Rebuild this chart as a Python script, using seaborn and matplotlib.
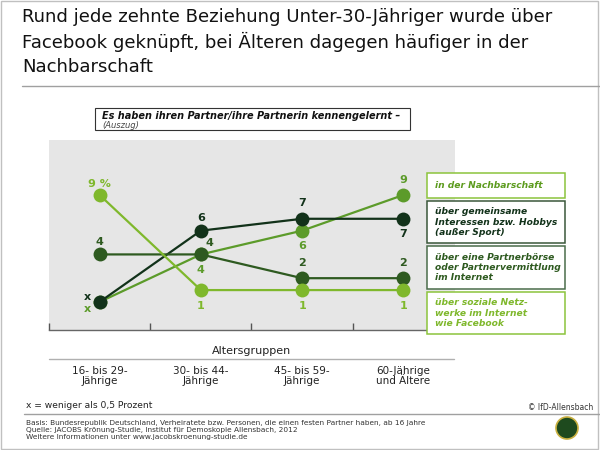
import matplotlib.pyplot as plt
import matplotlib.patches as mpatches
from matplotlib.lines import Line2D
import seaborn as sns
import pandas as pd

# Daten (Werte in Prozent, 0 = weniger als 0,5 Prozent -> "x")
age_groups = ["16- bis 29-\nJährige", "30- bis 44-\nJährige",
              "45- bis 59-\nJährige", "60-Jährige\nund Ältere"]
series_keys = ["nachbarschaft", "interessen", "partnerboerse", "facebook"]
series_labels = ["in der Nachbarschaft",
                 "über gemeinsame\nInteressen bzw. Hobbys\n(außer Sport)",
                 "über eine Partnerbörse\noder Partnervermittlung\nim Internet",
                 "über soziale Netz-\nwerke im Internet\nwie Facebook"]
nachbarschaft = [0, 4, 6, 9]
interessen = [0, 6, 7, 7]
partnerboerse = [4, 4, 2, 2]
facebook = [9, 1, 1, 1]

title = ("Rund jede zehnte Beziehung Unter-30-Jähriger wurde über\n"
         "Facebook geknüpft, bei Älteren dagegen häufiger in der\n"
         "Nachbarschaft")
subtitle = "Es haben ihren Partner/ihre Partnerin kennengelernt –"
footnotes = ("Basis: Bundesrepublik Deutschland, Verheiratete bzw. Personen, die einen festen Partner haben, ab 16 Jahre\n"
             "Quelle: JACOBS Krönung-Studie, Institut für Demoskopie Allensbach, 2012\n"
             "Weitere Informationen unter www.jacobskroenung-studie.de")

# Farben
colors = {"nachbarschaft": "#5c9b2a", "interessen": "#12321a",
          "partnerboerse": "#2e5a20", "facebook": "#7fb82c"}
box_edges = ["#8cc43c", "#3a573a", "#4a6c4a", "#8cc43c"]
box_text = ["#5c9b1e", "#12321a", "#2e5a20", "#7fb82c"]

# Beschriftungs-Versatz je Punkt (Pixel)
label_offsets = {
    "nachbarschaft": [(-12, -7), (0, -16), (0, -15), (0, 15)],
    "interessen": [(-12, 5), (0, 13), (0, 16), (0, -15)],
    "partnerboerse": [(0, 12), (9, 11), (0, 15), (0, 15)],
    "facebook": [(0, 11), (0, -16), (0, -16), (0, -16)],
}

sns.set_theme(style="white")
plt.rcParams["font.family"] = ["DejaVu Sans"]

W, H = 600, 450


def fx(px):
    return px / W


def fy(py):
    return 1 - py / H


fig = plt.figure(figsize=(6, 4.5), dpi=100)
fig.patch.set_facecolor("white")

values = {"nachbarschaft": nachbarschaft, "interessen": interessen,
          "partnerboerse": partnerboerse, "facebook": facebook}
rows = []
for key in series_keys:
    for i, v in enumerate(values[key]):
        rows.append({"pos": i, "wert": v, "weg": key})
df = pd.DataFrame(rows)

ax = fig.add_axes([fx(49), fy(330), 406 / W, 190 / H])
ax.set_facecolor("#e6e6e6")
sns.lineplot(data=df, x="pos", y="wert", hue="weg", hue_order=series_keys,
             palette=colors, marker="o", markersize=10, markeredgewidth=0,
             linewidth=1.6, errorbar=None, legend=False, ax=ax)

ax.set_xlim(-0.494, 3.51)
ax.set_ylim(-2.36, 13.63)
ax.set_xticks([-0.5, 0.5, 1.5, 2.5])
ax.set_xticklabels([])
ax.set_yticks([])
ax.set_xlabel("")
ax.set_ylabel("")
ax.tick_params(axis="x", direction="in", length=5, width=1, color="#555555", bottom=True)
for side in ["top", "left", "right"]:
    ax.spines[side].set_visible(False)
ax.spines["bottom"].set_color("#666666")
ax.spines["bottom"].set_linewidth(1)

# Wertbeschriftungen
for key in series_keys:
    for i, v in enumerate(values[key]):
        txt = "x" if v == 0 else str(v)
        if key == "facebook" and i == 0:
            txt = f"{v} %"
        dx, dy = label_offsets[key][i]
        ax.annotate(txt, (i, v), xytext=(dx, dy), textcoords="offset pixels",
                    ha="center", va="center", fontsize=8, fontweight="bold",
                    color=colors[key], annotation_clip=False)

# Kategorien unter der Achse
for i, lab in enumerate(age_groups):
    ax.text(i, -(376 - 330) / 190, lab, transform=ax.get_xaxis_transform(),
            ha="center", va="center", fontsize=7.5, color="#222222", linespacing=1.05)
ax.text(1.5, -(351 - 330) / 190, "Altersgruppen", transform=ax.get_xaxis_transform(),
        ha="center", va="center", fontsize=8, color="#222222")
fig.add_artist(Line2D([fx(49), fx(454)], [fy(359), fy(359)], color="#b0b0b0", lw=1))

# Legendenkästen
box_ys = [(173, 198), (201, 243), (246, 289), (292, 334)]
for (top, bot), lab, ec, tc in zip(box_ys, series_labels, box_edges, box_text):
    fig.add_artist(mpatches.Rectangle((fx(427), fy(bot)), 138 / W, (bot - top) / H,
                                      facecolor="white", edgecolor=ec, lw=1.1))
    fig.text(fx(435), fy((top + bot) / 2), lab, ha="left", va="center",
             fontsize=6.6, fontweight="bold", fontstyle="italic", color=tc,
             linespacing=1.2)

# Untertitel-Kasten
fig.add_artist(mpatches.Rectangle((fx(95), fy(130)), 315 / W, 22 / H,
                                  facecolor="white", edgecolor="#333333", lw=0.8))
fig.text(fx(102), fy(116), subtitle, ha="left", va="center", fontsize=7,
         fontweight="bold", fontstyle="italic", color="#111111")
fig.text(fx(102), fy(125.5), "(Auszug)", ha="left", va="center", fontsize=6,
         fontstyle="italic", color="#444444")

# Titel
fig.text(fx(22), fy(8), title, ha="left", va="top", fontsize=13.1, color="#111111",
         linespacing=1.38)
fig.add_artist(Line2D([fx(22), fx(600)], [fy(86), fy(86)], color="#a0a0a0", lw=1))

# Fußzeile
fig.text(fx(26), fy(406), "x = weniger als 0,5 Prozent", ha="left", va="center",
         fontsize=6.6, color="#222222")
fig.text(fx(593), fy(408), "© IfD-Allensbach", ha="right", va="center",
         fontsize=5.5, color="#333333")
fig.add_artist(Line2D([fx(24), fx(600)], [fy(414), fy(414)], color="#a0a0a0", lw=1))
fig.text(fx(26), fy(420), footnotes, ha="left", va="top", fontsize=5.35,
         color="#333333", linespacing=1.25)

# Logo (vereinfacht)
fig.add_artist(mpatches.Ellipse((fx(567), fy(428)), 22 / W, 22 / H,
                                facecolor="#1e4a1e", edgecolor="#c9b040", lw=1.2))

# Rahmen
fig.add_artist(mpatches.Rectangle((fx(1), fy(449)), 597 / W, 448 / H, fill=False,
                                  edgecolor="#c0c0c0", lw=1))

fig.savefig("out.png", dpi=100)
